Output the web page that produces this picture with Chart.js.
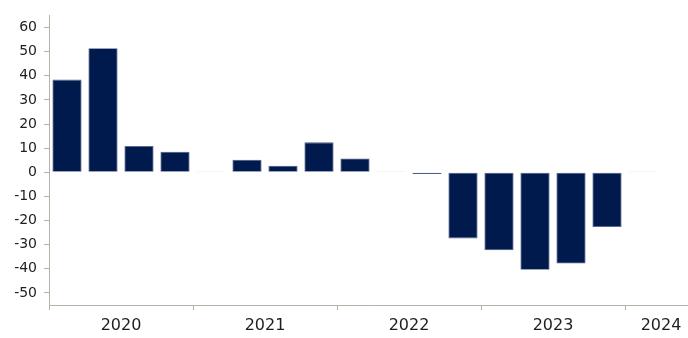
<!DOCTYPE html>
<html>
<head>
<meta charset="utf-8">
<script src="https://cdn.jsdelivr.net/npm/chart.js@4"></script>
<style>
  html, body { margin: 0; padding: 0; background: #ffffff; overflow: hidden; }
  #wrap { width: 688px; height: 338px; overflow: hidden; }
  canvas { display: block; }
</style>
</head>
<body>
<div id="wrap"><canvas id="c" width="700" height="338"></canvas></div>
<script>
// Quarterly values, 2020 Q1 through 2024 Q2
const quarters = [
  '2020 Q1', '2020 Q2', '2020 Q3', '2020 Q4',
  '2021 Q1', '2021 Q2', '2021 Q3', '2021 Q4',
  '2022 Q1', '2022 Q2', '2022 Q3', '2022 Q4',
  '2023 Q1', '2023 Q2', '2023 Q3', '2023 Q4',
  '2024 Q1', '2024 Q2'
];
const values = [
  38.4, 51.4, 10.9, 8.5,
  0.3, 5.2, 2.7, 12.4,
  5.7, 0.1, -0.7, -27.4,
  -32.3, -40.4, -37.8, -22.7,
  0.3, null
];
const yearLabels = ['2020', '2021', '2022', '2023', '2024'];
// Year label positions (in category index units) and year boundary marks
const yearLabelPos = [1.5, 5.5, 9.5, 13.5, 16.5];
const yearBoundaries = [-0.5, 3.5, 7.5, 11.5, 15.5];
const yTicks = [-50, -40, -30, -20, -10, 0, 10, 20, 30, 40, 50, 60];

const axisColor = '#b9b1a8';
const textColor = '#1e1e1e';
const barColor = '#001a4e';

new Chart(document.getElementById('c'), {
  type: 'bar',
  data: {
    labels: quarters,
    datasets: [{
      data: values,
      backgroundColor: barColor,
      borderColor: '#4d5f8a',
      borderWidth: 0.8,
      borderSkipped: false,
      categoryPercentage: 1.0,
      barPercentage: 0.81,
      xAxisID: 'x',
      yAxisID: 'y'
    }]
  },
  options: {
    responsive: false,
    animation: false,
    layout: { padding: { top: 12, right: 3, left: 0, bottom: 0 } },
    plugins: { legend: { display: false }, tooltip: { enabled: false } },
    scales: {
      x: { type: 'category', display: false, offset: true },
      years: {
        type: 'linear',
        position: 'bottom',
        offset: false,
        min: -0.5,
        max: quarters.length - 0.5,
        afterBuildTicks: (axis) => {
          const vals = [...yearBoundaries, ...yearLabelPos].sort((a, b) => a - b);
          axis.ticks = vals.map(v => ({ value: v }));
        },
        afterFit: (scale) => { scale.height = 33; },
        border: { display: true, color: axisColor, width: 1 },
        grid: {
          offset: false,
          drawOnChartArea: false,
          drawTicks: true,
          tickLength: 5,
          lineWidth: 1,
          color: (ctx) => (ctx.tick && yearBoundaries.includes(ctx.tick.value)) ? axisColor : 'rgba(0,0,0,0)'
        },
        ticks: {
          autoSkip: false,
          maxRotation: 0,
          padding: 6,
          color: textColor,
          font: { family: 'DejaVu Sans', size: 16 },
          callback: (v) => {
            const i = yearLabelPos.indexOf(v);
            return i >= 0 ? yearLabels[i] : '';
          }
        }
      },
      y: {
        min: -55,
        max: 65,
        afterBuildTicks: (axis) => {
          axis.ticks = yTicks.map(v => ({ value: v }));
        },
        afterFit: (scale) => { scale.width = 49; },
        border: { display: true, color: axisColor, width: 1 },
        grid: {
          drawOnChartArea: false,
          drawTicks: true,
          tickLength: 5,
          color: axisColor
        },
        ticks: {
          padding: 7,
          color: textColor,
          font: { family: 'DejaVu Sans', size: 14 }
        }
      }
    }
  }
});
</script>
</body>
</html>
